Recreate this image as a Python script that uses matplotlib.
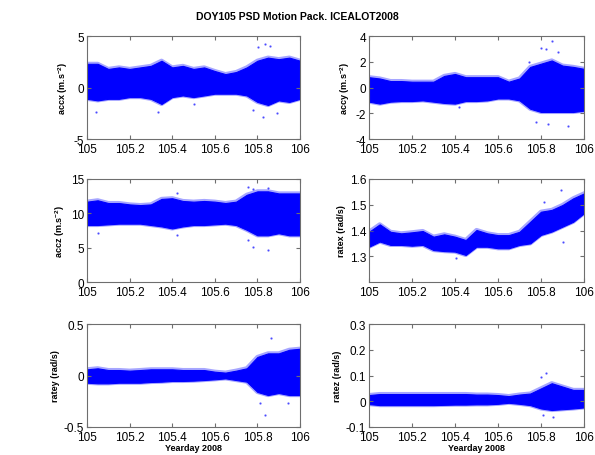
import numpy as np
import matplotlib
matplotlib.use("Agg")
import matplotlib.pyplot as plt
from matplotlib.ticker import FuncFormatter

plt.rcParams.update(
    {
        "font.family": ["Liberation Sans", "DejaVu Sans"],
        "mathtext.default": "regular",
        "font.size": 8.5,
        "axes.linewidth": 0.8,
        "axes.edgecolor": "#6e6e6e",
        "xtick.direction": "in",
        "ytick.direction": "in",
        "xtick.top": True,
        "ytick.right": True,
        "xtick.major.size": 3,
        "ytick.major.size": 3,
        "xtick.major.pad": 3,
        "ytick.major.pad": 2,
        "xtick.color": "#6e6e6e",
        "ytick.color": "#6e6e6e",
        "xtick.labelcolor": "black",
        "ytick.labelcolor": "black",
    }
)

# yearday knots (every 0.05 day)
t = [105.00, 105.05, 105.10, 105.15, 105.20, 105.25, 105.30, 105.35, 105.40,
     105.45, 105.50, 105.55, 105.60, 105.65, 105.70, 105.75, 105.80, 105.85,
     105.90, 105.95, 106.00]

# envelope of the dense signal band
accx_hi = [2.3, 2.3, 1.8, 1.95, 1.8, 1.95, 2.1, 2.6, 1.95, 2.1, 1.8, 1.95, 1.6,
           1.3, 1.5, 1.95, 2.6, 2.9, 2.75, 2.9, 2.6]
accx_lo = [-1.1, -1.25, -1.1, -1.1, -0.93, -0.93, -1.1, -1.6, -0.93, -0.77, -0.93,
           -0.77, -0.6, -0.6, -0.6, -0.77, -1.4, -1.7, -1.25, -1.4, -1.1]
accy_hi = [0.8, 0.7, 0.5, 0.5, 0.45, 0.45, 0.45, 0.9, 1.05, 0.8, 0.8, 0.8, 0.8,
           0.45, 0.7, 1.6, 1.85, 2.1, 1.7, 1.6, 1.45]
accy_lo = [-1.1, -1.25, -1.1, -1.05, -1.05, -1.0, -1.1, -1.2, -1.25, -1.05, -1.05,
           -1.0, -0.85, -0.85, -1.0, -1.65, -1.9, -1.9, -1.9, -1.9, -1.8]
accz_hi = [11.7, 11.9, 11.5, 11.5, 11.3, 11.2, 11.3, 12.1, 12.2, 11.8, 11.7, 11.8,
           11.7, 11.5, 11.7, 12.7, 13.2, 13.2, 12.9, 12.9, 12.9]
accz_lo = [8.3, 8.3, 8.4, 8.5, 8.5, 8.5, 8.3, 8.1, 7.8, 8.1, 8.3, 8.3, 8.4, 8.5,
           8.3, 7.6, 6.8, 6.8, 7.1, 6.8, 6.8]
ratex_hi = [1.395, 1.424, 1.395, 1.389, 1.393, 1.398, 1.376, 1.385, 1.376, 1.363,
            1.402, 1.389, 1.382, 1.382, 1.395, 1.434, 1.473, 1.480, 1.499, 1.525, 1.544]
ratex_lo = [1.337, 1.357, 1.344, 1.344, 1.341, 1.344, 1.324, 1.320, 1.318, 1.305,
            1.337, 1.337, 1.331, 1.331, 1.344, 1.350, 1.383, 1.396, 1.415, 1.434, 1.467]
ratey_hi = [0.06, 0.07, 0.053, 0.053, 0.047, 0.053, 0.06, 0.06, 0.06, 0.053, 0.053,
            0.053, 0.037, 0.028, 0.047, 0.07, 0.18, 0.215, 0.215, 0.25, 0.26]
ratey_lo = [-0.07, -0.076, -0.076, -0.07, -0.07, -0.07, -0.063, -0.06, -0.053, -0.053,
            -0.05, -0.044, -0.037, -0.028, -0.044, -0.06, -0.16, -0.19, -0.17, -0.19, -0.19]
ratez_hi = [0.024, 0.028, 0.028, 0.028, 0.028, 0.028, 0.028, 0.028, 0.028, 0.028,
            0.026, 0.026, 0.024, 0.02, 0.026, 0.03, 0.05, 0.07, 0.057, 0.044, 0.044]
ratez_lo = [-0.011, -0.015, -0.015, -0.015, -0.015, -0.015, -0.015, -0.014, -0.013,
            -0.013, -0.012, -0.012, -0.01, -0.006, -0.01, -0.015, -0.028, -0.034,
            -0.031, -0.028, -0.024]

# isolated outlier points
accx_spk_t = [105.042, 105.335, 105.504, 105.781, 105.804, 105.828, 105.836, 105.859, 105.890]
accx_spk_y = [-2.4, -2.4, -1.6, -2.2, 3.9, -2.85, 4.2, 4.0, -2.5]
accy_spk_t = [105.420, 105.746, 105.777, 105.800, 105.823, 105.831, 105.850, 105.878, 105.927]
accy_spk_y = [-1.5, 2.0, -2.7, 3.1, 3.0, -2.8, 3.6, 2.75, -3.0]
accz_spk_t = [105.053, 105.421, 105.421, 105.757, 105.757, 105.781, 105.781, 105.851, 105.851]
accz_spk_y = [7.2, 12.9, 6.9, 13.9, 6.1, 13.6, 5.1, 13.7, 4.6]
ratex_spk_t = [105.405, 105.815, 105.893, 105.900]
ratex_spk_y = [1.292, 1.512, 1.557, 1.357]
ratey_spk_t = [105.812, 105.836, 105.864, 105.945]
ratey_spk_y = [-0.27, -0.38, 0.36, -0.27]
ratez_spk_t = [105.800, 105.808, 105.823, 105.854]
ratez_spk_y = [0.093, -0.053, 0.108, -0.06]

panels = [
    ("accx (m.s$^{-2}$)", accx_hi, accx_lo, accx_spk_t, accx_spk_y, (-5, 5), [-5, 0, 5]),
    ("accy (m.s$^{-2}$)", accy_hi, accy_lo, accy_spk_t, accy_spk_y, (-4, 4), [-4, -2, 0, 2, 4]),
    ("accz (m.s$^{-2}$)", accz_hi, accz_lo, accz_spk_t, accz_spk_y, (0, 15), [0, 5, 10, 15]),
    ("ratex (rad/s)", ratex_hi, ratex_lo, ratex_spk_t, ratex_spk_y, (1.2, 1.6), [1.3, 1.4, 1.5, 1.6]),
    ("ratey (rad/s)", ratey_hi, ratey_lo, ratey_spk_t, ratey_spk_y, (-0.5, 0.5), [-0.5, 0, 0.5]),
    ("ratez (rad/s)", ratez_hi, ratez_lo, ratez_spk_t, ratez_spk_y, (-0.1, 0.3), [-0.1, 0, 0.1, 0.2, 0.3]),
]

xticks = [105, 105.2, 105.4, 105.6, 105.8, 106]
lefts = [87 / 595, 369 / 595]
widths = [213 / 595, 215 / 595]
bottoms = [1 - 140 / 456, 1 - 283 / 456, 1 - 428 / 456]
h = 103 / 456

fmt = FuncFormatter(lambda v, _: f"{v:g}")

fig = plt.figure(figsize=(5.95, 4.56), dpi=100)
for i, (lab, hi, lo, st, sy, ylim, yt) in enumerate(panels):
    r, c = divmod(i, 2)
    ax = fig.add_axes([lefts[c], bottoms[r], widths[c], h])
    ax.fill_between(t, lo, hi, facecolor="blue", edgecolor="blue", linewidth=0.8)
    # soft fringe along the band edges, like the sparse points of the record
    ax.plot(t, hi, color="blue", linewidth=3, alpha=0.35)
    ax.plot(t, lo, color="blue", linewidth=3, alpha=0.35)
    ax.plot(st, sy, ".", color="blue", markersize=1.3, alpha=0.6)
    ax.set_xlim(105, 106)
    ax.set_ylim(*ylim)
    ax.set_xticks(xticks)
    ax.set_yticks(yt)
    ax.xaxis.set_major_formatter(fmt)
    ax.yaxis.set_major_formatter(fmt)
    ax.set_ylabel(lab, fontsize=6.5, fontweight="bold", labelpad=3)
    if r == 2:
        ax.set_xlabel("Yearday 2008", fontsize=6.5, fontweight="bold", labelpad=0)

fig.text(0.5, 1 - 17 / 456, "DOY105 PSD Motion Pack. ICEALOT2008",
         ha="center", va="center", fontsize=7.5, fontweight="bold")

fig.savefig("out.png", dpi=100)
